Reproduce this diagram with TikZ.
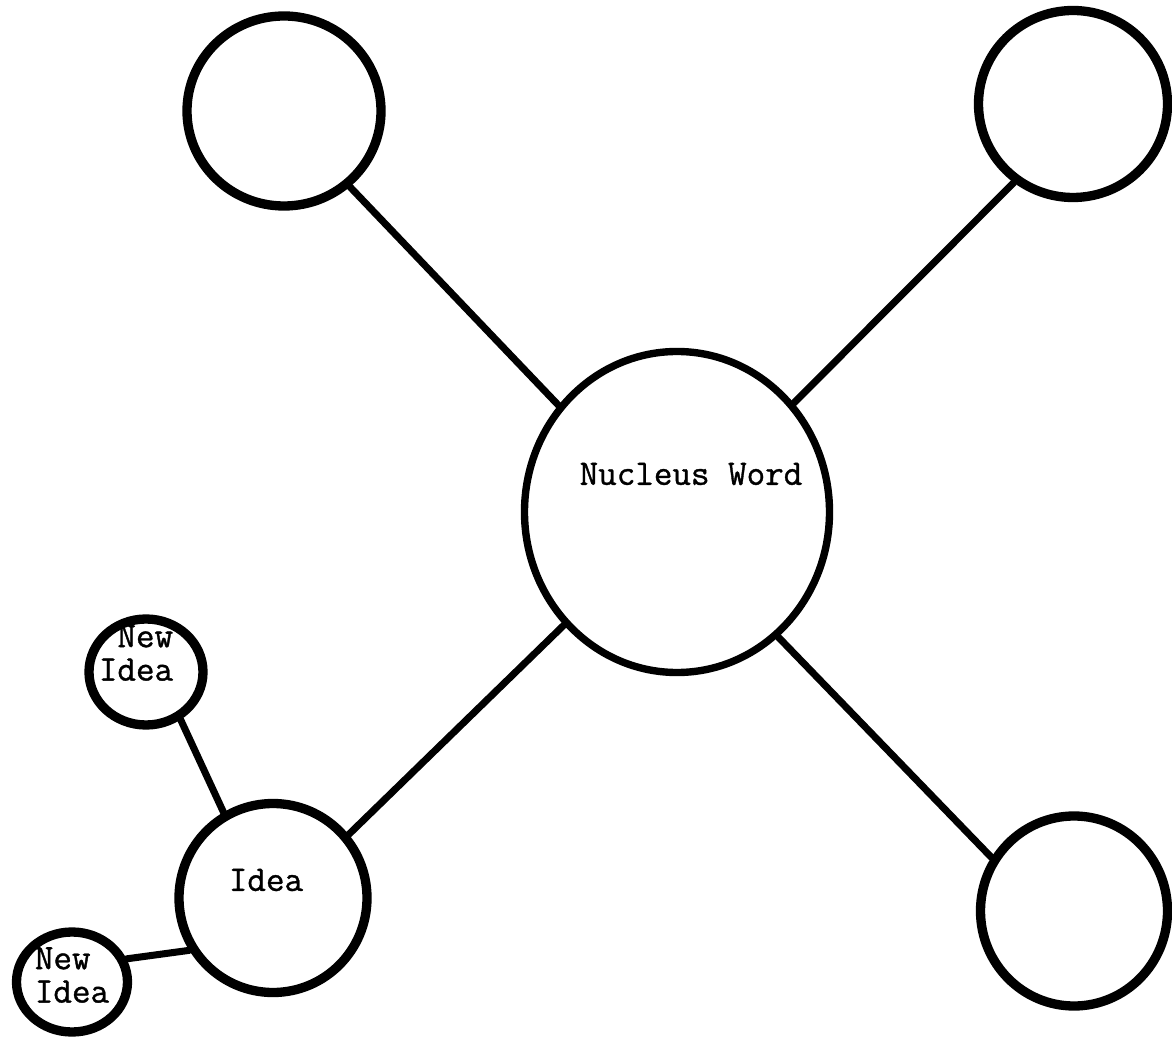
\documentclass[tikz,border=0pt]{standalone}
\usepackage{fontspec}
\setmonofont[FakeBold=1]{Latin Modern Mono}
\usetikzlibrary{shapes.geometric}

\tikzset{
  bubble/.style={draw, ellipse, inner sep=0pt, line width=5.3pt},
  stem/.style={line width=4pt, line cap=round},
  word/.style={font=\ttfamily\fontsize{20.5}{19}\selectfont, inner sep=0pt},
}

\begin{document}
\begin{tikzpicture}[x=0.2mm, y=-0.2mm]
	\useasboundingbox (0,0) rectangle (1172,1044);
	% bubbles
	\node[bubble, line width=4.2pt, minimum width=61mm, minimum height=64.2mm] (nucleus) at (677,512) {};
	\node[bubble, minimum width=38.8mm, minimum height=38mm] (topleft) at (284,111) {};
	\node[bubble, minimum width=37.8mm, minimum height=37.4mm] (topright) at (1073,104) {};
	\node[bubble, minimum width=37.4mm, minimum height=38mm] (bottomright) at (1074,911) {};
	\node[bubble, minimum width=37.6mm, minimum height=37.8mm] (idea) at (273,898) {};
	\node[bubble, minimum width=22.8mm, minimum height=21.2mm] (newtop) at (146,672) {};
	\node[bubble, minimum width=22.2mm, minimum height=20mm] (newbottom) at (72,982) {};
	% labels
	\node[word] (nucleuslabel) at (691,474) {Nucleus Word};
	\node[word] (idealabel) at (266,880) {Idea};
	\node[word, align=right] (newtoplabel) at (136,653) {New\\Idea};
	\node[word, align=left] (newbottomlabel) at (72,975) {New\\Idea};
	% stems
	\draw[stem] (nucleus.138) -- (topleft.-49);
	\draw[stem] (nucleus.43) -- (topright.233);
	\draw[stem] (nucleus.225) -- (idea.40);
	\draw[stem] (nucleus.-51) -- (bottomright.147);
	\draw[stem] (idea.120) -- (newtop.-54);
	\draw[stem] (idea.212) -- (newbottom.23);
\end{tikzpicture}
\end{document}
